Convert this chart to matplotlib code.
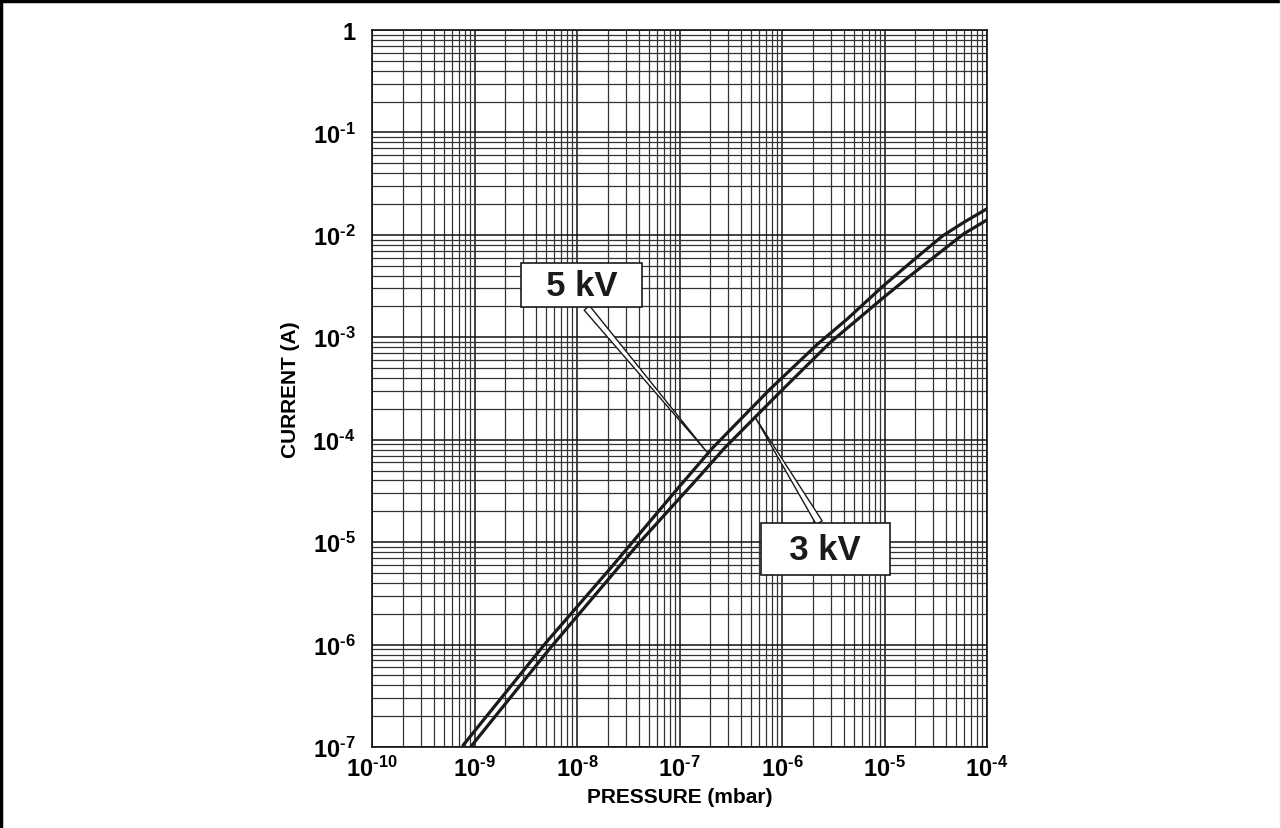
#!/usr/bin/env python3
"""Ion pump current vs pressure for 3 kV and 5 kV, log-log on a full grid."""

import matplotlib

matplotlib.use("Agg")
import matplotlib.pyplot as plt
from matplotlib.lines import Line2D
from matplotlib.ticker import FixedLocator, LogLocator, NullFormatter

# values
pressure_5kv = [7.8e-10, 5.0e-9, 2.1e-8, 1.0e-7, 2.1e-7, 7.6e-7, 2.2e-6, 4.3e-6,
                9.8e-6, 2.05e-5, 3.7e-5, 5.9e-5, 1.0e-4]
current_5kv = [1.05e-7, 1.05e-6, 5.5e-6, 3.5e-5, 8.3e-5, 3.1e-4, 8.5e-4, 1.5e-3,
               3.2e-3, 6.0e-3, 9.8e-3, 1.32e-2, 1.8e-2]

pressure_3kv = [9.3e-10, 5.5e-9, 4.1e-8, 1.6e-7, 2.75e-7, 9.5e-7, 2.95e-6, 9.8e-6,
                1.9e-5, 5.9e-5, 1.0e-4]
current_3kv = [1.02e-7, 9.3e-7, 1.0e-5, 4.5e-5, 8.3e-5, 2.9e-4, 8.9e-4, 2.45e-3,
               4.2e-3, 1.02e-2, 1.4e-2]

x_ticks = [1e-10, 1e-9, 1e-8, 1e-7, 1e-6, 1e-5, 1e-4]
x_tick_labels = ["-10", "-9", "-8", "-7", "-6", "-5", "-4"]
y_ticks = [1e-7, 1e-6, 1e-5, 1e-4, 1e-3, 1e-2, 1e-1, 1]
y_tick_labels = ["-7", "-6", "-5", "-4", "-3", "-2", "-1", None]

# where the callouts point to on each curve
point_5kv = (1.85e-7, 7.6e-5)
point_3kv = (5.46e-7, 1.66e-4)

plt.rcParams["font.family"] = ["Liberation Sans", "DejaVu Sans"]
plt.rcParams["mathtext.fontset"] = "custom"
plt.rcParams["mathtext.rm"] = "Liberation Sans:bold"
plt.rcParams["mathtext.bf"] = "Liberation Sans:bold"
plt.rcParams["mathtext.it"] = "Liberation Sans:bold"


def power_label(exp):
    if exp is None:
        return "1"
    return r"$10^{\text{%s}}$" % exp


fig = plt.figure(figsize=(12.81, 8.29), dpi=100)
ax = fig.add_axes([0.2904, 0.0977, 0.4801, 0.8649])

ax.set_xscale("log")
ax.set_yscale("log")
ax.set_xlim(1e-10, 1e-4)
ax.set_ylim(1e-7, 1)

ax.plot(pressure_5kv, current_5kv, color="#1a1a1a", linewidth=2.3, zorder=3,
        solid_joinstyle="round")
ax.plot(pressure_3kv, current_3kv, color="#1a1a1a", linewidth=2.3, zorder=3,
        solid_joinstyle="round")

ax.xaxis.set_major_locator(FixedLocator(x_ticks))
ax.yaxis.set_major_locator(FixedLocator(y_ticks))
ax.xaxis.set_minor_locator(LogLocator(base=10, subs=range(2, 10), numticks=20))
ax.yaxis.set_minor_locator(LogLocator(base=10, subs=range(2, 10), numticks=20))
ax.xaxis.set_minor_formatter(NullFormatter())
ax.yaxis.set_minor_formatter(NullFormatter())
ax.set_xticklabels([power_label(e) for e in x_tick_labels])
ax.set_yticklabels([power_label(e) for e in y_tick_labels])

ax.tick_params(which="both", length=0)
ax.tick_params(axis="x", labelsize=17, pad=6)
ax.tick_params(axis="y", labelsize=17, pad=12)
for lbl in ax.get_xticklabels() + ax.get_yticklabels():
    lbl.set_fontweight("bold")

ax.grid(True, which="major", color="#111111", linewidth=1.1)
ax.grid(True, which="minor", color="#333333", linewidth=0.9)
for spine in ax.spines.values():
    spine.set_color("#111111")
    spine.set_linewidth(1.2)

ax.set_xlabel("PRESSURE (mbar)", fontsize=15, fontweight="bold", labelpad=5)
ax.set_ylabel("CURRENT (A)", fontsize=15, fontweight="bold", labelpad=9)

wedge = dict(arrowstyle="wedge,tail_width=0.2,shrink_factor=0.5",
             facecolor="white", edgecolor="#1a1a1a", linewidth=1.0,
             shrinkA=0, shrinkB=0)

ax.annotate("  5 kV  ", xy=point_5kv, xytext=(0.341, 0.644),
            textcoords="axes fraction", ha="center", va="center",
            fontsize=25, fontweight="bold", color="#1a1a1a",
            bbox=dict(boxstyle="square,pad=0.16", facecolor="white",
                      edgecolor="#1a1a1a", linewidth=1.2),
            arrowprops=dict(wedge, relpos=(0.5, 0.0)), zorder=5)
ax.annotate("  3 kV  ", xy=point_3kv, xytext=(0.737, 0.276),
            textcoords="axes fraction", ha="center", va="center",
            fontsize=25, fontweight="bold", color="#1a1a1a",
            bbox=dict(boxstyle="square,pad=0.27", facecolor="white",
                      edgecolor="#1a1a1a", linewidth=1.2),
            arrowprops=dict(wedge, relpos=(0.5, 1.0)), zorder=5)

# page frame
fig.add_artist(Line2D([0, 1], [0.998, 0.998], transform=fig.transFigure,
                      color="black", linewidth=2.5))
fig.add_artist(Line2D([0.001, 0.001], [0, 1], transform=fig.transFigure,
                      color="black", linewidth=2.5))
fig.add_artist(Line2D([0.9993, 0.9993], [0, 1], transform=fig.transFigure,
                      color="#dddddd", linewidth=1.0))

fig.savefig("out.png", dpi=100)
